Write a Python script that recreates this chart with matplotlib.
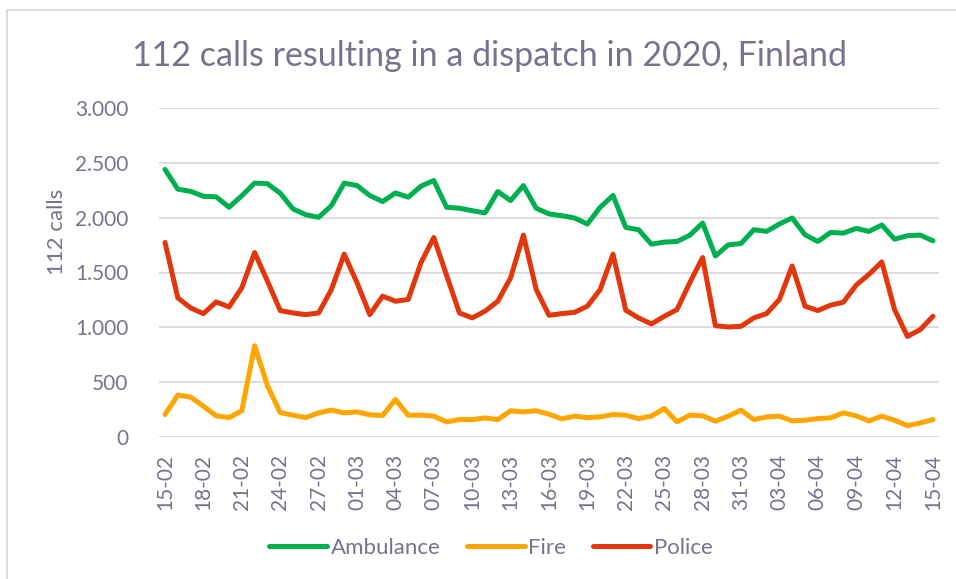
import matplotlib.pyplot as plt
from matplotlib.patches import Rectangle
import numpy as np
import datetime as dt

# daily counts, 15-02-2020 .. 15-04-2020
ambulance = [2440, 2260, 2240, 2195, 2190, 2095, 2200, 2315, 2310, 2223, 2080, 2027,
             2003, 2110, 2315, 2293, 2202, 2147, 2225, 2187, 2287, 2339, 2095, 2086,
             2064, 2043, 2238, 2156, 2293, 2086, 2034, 2018, 1997, 1942, 2095, 2202,
             1911, 1890, 1758, 1777, 1783, 1840, 1951, 1651, 1752, 1764, 1890, 1875,
             1942, 1997, 1844, 1783, 1865, 1859, 1902, 1875, 1933, 1804, 1835, 1841,
             1789]
fire = [205, 382, 364, 281, 193, 177, 239, 832, 468, 223, 199, 177,
        220, 245, 220, 229, 202, 196, 342, 199, 199, 190, 138, 159,
        159, 174, 159, 239, 229, 239, 208, 165, 190, 177, 183, 205,
        199, 168, 190, 260, 138, 199, 193, 144, 190, 245, 159, 183,
        190, 147, 153, 168, 174, 220, 193, 147, 190, 153, 104, 128,
        159]
police = [1774, 1269, 1177, 1125, 1232, 1186, 1361, 1682, 1422, 1153, 1131, 1116,
          1131, 1345, 1667, 1407, 1116, 1284, 1238, 1254, 1590, 1819, 1474, 1131,
          1086, 1147, 1238, 1452, 1841, 1345, 1110, 1125, 1137, 1193, 1345, 1667,
          1156, 1086, 1031, 1100, 1162, 1407, 1636, 1015, 1003, 1009, 1086, 1125,
          1254, 1560, 1193, 1153, 1202, 1229, 1385, 1483, 1596, 1162, 917, 979,
          1101]
yticks = [0, 500, 1000, 1500, 2000, 2500, 3000]
ylabels = ['0', '500', '1.000', '1.500', '2.000', '2.500', '3.000']

start = dt.date(2020, 2, 15)
dates = [start + dt.timedelta(days=i) for i in range(len(police))]
labels = [d.strftime('%d-%m') for d in dates]

txt = '#76728F'
plt.rcParams['font.family'] = ['Lato', 'DejaVu Sans']

fig = plt.figure(figsize=(9.56, 5.79), dpi=100)
ax = fig.add_axes([159/956, 142/579, 780/956, 329/579])

x = np.arange(len(police))
ax.plot(x, ambulance, color='#00B050', lw=3.6, label='Ambulance', solid_capstyle='round', solid_joinstyle='round')
ax.plot(x, fire, color='#FFA500', lw=3.6, label='Fire', solid_capstyle='round', solid_joinstyle='round')
ax.plot(x, police, color='#E2360C', lw=3.6, label='Police', solid_capstyle='round', solid_joinstyle='round')

ax.set_xlim(-0.47, 60.47)
ax.set_ylim(0, 3000)
ax.set_yticks(yticks)
ax.set_yticklabels(ylabels)
ax.set_xticks(x[::3])
ax.set_xticklabels(labels[::3], rotation=90)
ax.grid(axis='y', color='#D9D9DE', lw=1.3)
ax.set_axisbelow(True)
for s in ax.spines.values():
    s.set_visible(False)
ax.tick_params(length=0, colors=txt, labelsize=15)
ax.tick_params(axis='y', pad=22)
ax.tick_params(axis='x', pad=12)

fig.text(57/956, 1 - 232/579, '112 calls', rotation=90, color=txt, fontsize=16,
         ha='center', va='center')
fig.text(489/956, 1 - 56/579, '112 calls resulting in a dispatch in 2020, Finland',
         color=txt, fontsize=24.5, ha='center', va='center')

ax.legend(loc='center', bbox_to_anchor=(491/956, 1 - 548/579), bbox_transform=fig.transFigure,
          ncol=3, frameon=False, fontsize=16, labelcolor=txt, handlelength=2.6,
          handletextpad=0.15, columnspacing=1.2)

fig.patches.append(Rectangle((7/956, -0.1), 1.2, 1 - 10/579 + 0.1, transform=fig.transFigure,
                             fill=False, edgecolor='#D9D9DE', lw=1.3))

fig.savefig('out.png', dpi=100)
